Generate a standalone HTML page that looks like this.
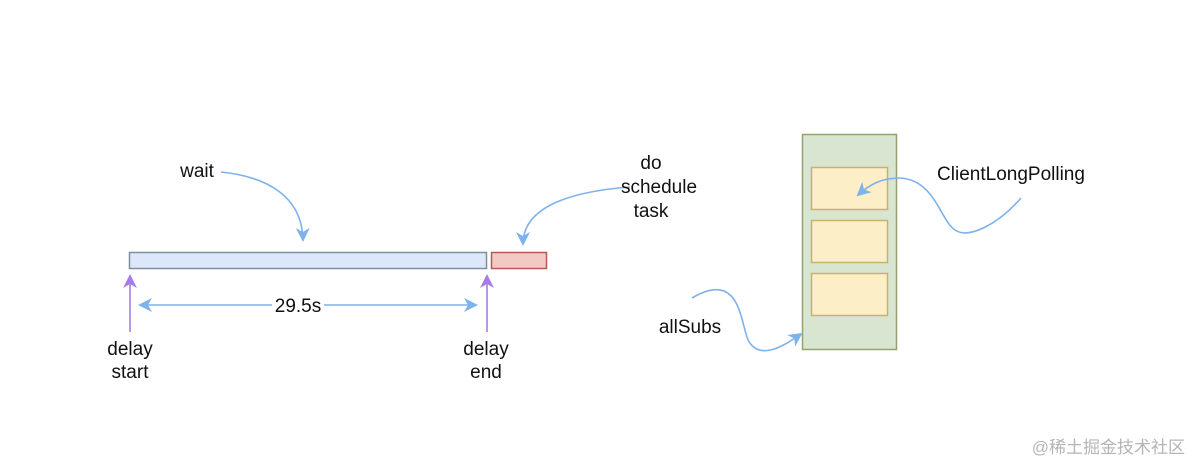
<!DOCTYPE html>
<html><head><meta charset="utf-8"><style>
html,body{margin:0;padding:0;background:#fff;}
svg{display:block;}
text{font-family:"Liberation Sans",Arial,sans-serif;font-size:19px;fill:#111;}
</style></head><body>
<svg width="1200" height="476" viewBox="0 0 1200 476" xmlns="http://www.w3.org/2000/svg">
<defs>
<marker id="ab" markerWidth="16" markerHeight="16" refX="12" refY="7" orient="auto" markerUnits="userSpaceOnUse"><path d="M0,0 L14,7 L0,14 L4,7 Z" fill="#7eb2ea"/></marker>
<marker id="ap" markerWidth="16" markerHeight="16" refX="12" refY="7" orient="auto" markerUnits="userSpaceOnUse"><path d="M0,0 L14,7 L0,14 L4,7 Z" fill="#a67de8"/></marker>
</defs>
<rect x="129.5" y="252.5" width="357" height="16" fill="#dce8f9" stroke="#7f8ea0" stroke-width="1.5"/>
<rect x="491.5" y="252.5" width="55" height="16" fill="#f3c9c4" stroke="#b55a58" stroke-width="1.5"/>
<rect x="802.5" y="134.5" width="94" height="215" fill="#d8e5d1" stroke="#93a36e" stroke-width="1.5"/>
<rect x="811.5" y="167.5" width="76" height="42" fill="#fcefc8" stroke="#c7b26c" stroke-width="1.5"/>
<rect x="811.5" y="220.5" width="76" height="42" fill="#fcefc8" stroke="#c7b26c" stroke-width="1.5"/>
<rect x="811.5" y="273.5" width="76" height="42" fill="#fcefc8" stroke="#c7b26c" stroke-width="1.5"/>
<g fill="none" stroke="#7eb2ea" stroke-width="1.6">
<path d="M221,172 C260,176 302,192 303,240" marker-end="url(#ab)"/>
<path d="M630,187 C590,190 523,200 523,244" marker-end="url(#ab)"/>
<path d="M1021,198 C1000,222 970,240 955,230 C940,220 935,180 900,178 C880,178 868,186 858,195" marker-end="url(#ab)"/>
<path d="M692,298 C740,270 740,320 748,340 C760,362 785,345 801,334" marker-end="url(#ab)"/>
<path d="M145,305 L476,305" marker-end="url(#ab)"/>
</g>
<path d="M138,305 L152,298 L148,305 L152,312 Z" fill="#7eb2ea"/>
<g fill="none" stroke="#a67de8" stroke-width="1.6">
<path d="M130,332 L130,276" marker-end="url(#ap)"/>
<path d="M487,332 L487,276" marker-end="url(#ap)"/>
</g>
<rect x="272" y="294" width="52" height="22" fill="#fff"/>
<text x="298" y="312" text-anchor="middle">29.5s</text>
<text x="197" y="177" text-anchor="middle">wait</text>
<text x="651" y="169" text-anchor="middle">do</text>
<text x="659" y="193" text-anchor="middle">schedule</text>
<text x="651" y="217" text-anchor="middle">task</text>
<text x="1011" y="180" text-anchor="middle">ClientLongPolling</text>
<text x="690" y="333" text-anchor="middle">allSubs</text>
<text x="130" y="355" text-anchor="middle">delay</text>
<text x="130" y="378" text-anchor="middle">start</text>
<text x="486" y="355" text-anchor="middle">delay</text>
<text x="486" y="378" text-anchor="middle">end</text>
<text x="1185" y="453" text-anchor="end" style="font-family:'Liberation Sans','Noto Sans CJK SC',sans-serif;font-size:17px;fill:#b5b5b5">@稀土掘金技术社区</text>
</svg>
</body></html>
